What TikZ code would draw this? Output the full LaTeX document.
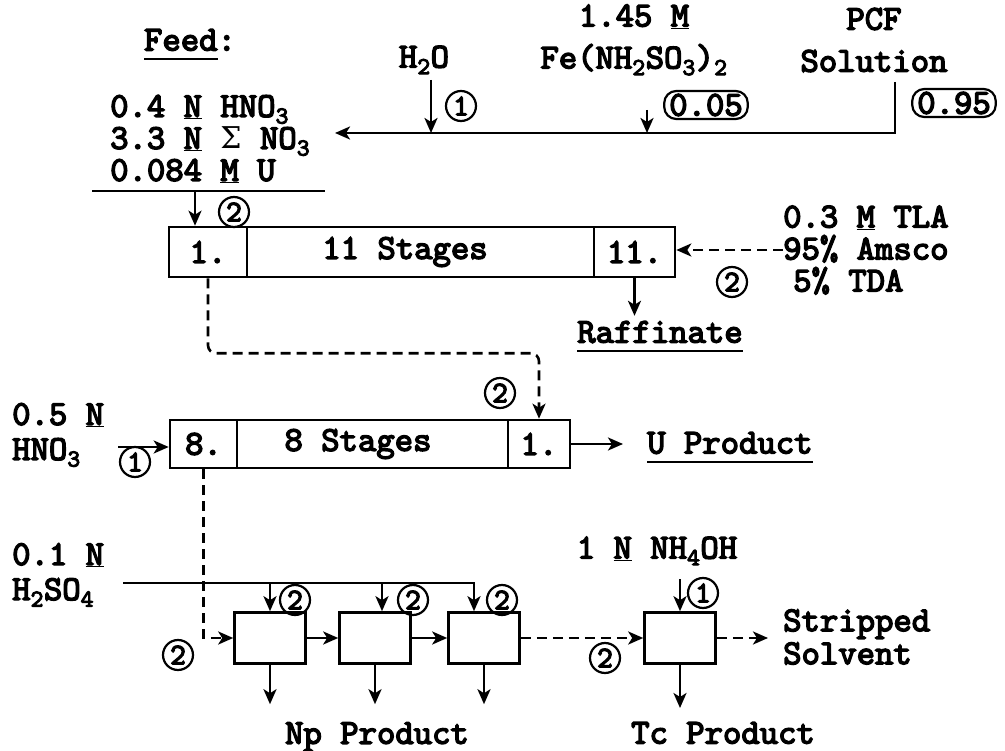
\documentclass[tikz,border=0pt]{standalone}
\usepackage{fontspec}
\usetikzlibrary{positioning,arrows.meta,calc}
\newfontfamily\twr{lmmono10-regular}[Extension=.otf,FakeBold=4]
\newfontfamily\grk{DejaVu Serif}
\newcommand\sbs[1]{\textsubscript{#1}}
\newcommand\typeul[1]{\leavevmode\setbox0=\hbox{#1}\rlap{\smash{\rule[-9pt]{\wd0}{1.8pt}}}\box0}
\tikzset{
  txt/.style={inner sep=0pt},
  lead/.style={align=left,inner sep=0pt,font=\fontsize{35}{#1}\selectfont\twr},
  unit/.style={draw,line width=2.6pt,inner sep=0pt,minimum height=50pt},
  num/.style={circle,draw,line width=2.2pt,inner sep=0pt,minimum size=30pt,
    font=\fontsize{30}{30}\selectfont\twr},
  ratio/.style={draw,rounded corners=12pt,line width=2.2pt,inner xsep=5pt,inner ysep=1pt,
    minimum height=28pt},
  ln/.style={line width=2.6pt},
  ar/.style={-{Stealth[length=15pt,width=13pt,inset=4pt]},line width=2.6pt},
  dar/.style={ar,dash pattern=on 10pt off 6pt},
}
\begin{document}
\begin{tikzpicture}[x=1pt,y=-1pt,font=\fontsize{35}{36}\selectfont\twr]
  \useasboundingbox (0,0) rectangle (1005,751);
  % feed make-up
  \node[txt] (feed) at (190,40) {\typeul{Feed}:};
  \node[txt] (water) at (424,60) {H\sbs{2}O};
  \node[lead=42,align=center] (ferro) at (634,40) {1.45 \underline{M}\\Fe(NH\sbs{2}SO\sbs{3})\sbs{2}};
  \node[lead=42,align=center] (pcf) at (874,40) {PCF\\Solution};
  \node[ratio] (r05) at (706,105) {0.05};
  \node[ratio] (r95) at (954,103) {0.95};
  \node[num] (n1a) at (461,106) {1};
  \coordinate (pcfout) at (895,82);
  \coordinate (mix) at (335,133);
  \coordinate (wat) at (431,80);
  \coordinate (fe) at (647,110);
  \draw[ar] (pcfout) |- (mix);
  \draw[ar] (wat) -- (wat |- mix);
  \draw[ar] (fe) -- (fe |- mix);
  \node[lead=32,anchor=west] (feedcomp) at (110,139)
    {0.4 \underline{N} HNO\sbs{3}\\3.3 \underline{N} {\grk\fontsize{30}{30}\selectfont Σ} NO\sbs{3}\\0.084 \underline{M} U};
  \coordinate (fl) at (92,191);
  \coordinate (fr) at (325,191);
  \coordinate (fdrop) at (195,191);
  \draw[ln] (fl) -- (fr);

  % extraction
  \node[unit,minimum width=506pt] (ext) at (422,252) {};
  \node[unit,minimum width=78pt,anchor=west] (ext1) at (ext.west) {1.};
  \node[unit,minimum width=81pt,anchor=east] (ext11) at (ext.east) {11.};
  \node[txt] (extlbl) at (405,252) {11 Stages};
  \draw[ar] (fdrop) -- (fdrop |- ext.north);
  \node[num] (n2a) at (234,212) {2};
  \node[lead=32,anchor=west] (tla) at (783,250)
    {0.3 \underline{M} TLA\\95\% Amsco\\\hspace*{10pt}5\% TDA};
  \draw[dar] (tla.west) -- (tla.west -| ext.east);
  \node[num] (n2b) at (732,282) {2};
  \node[txt] (raff) at (660,332) {\typeul{Raffinate}};
  \draw[ar,shorten >=5pt] (ext11.south) -- (ext11.south |- raff.north);

  % scrub
  \node[unit,minimum width=400pt,minimum height=48pt] (scr) at (370,444) {};
  \node[unit,minimum width=67pt,minimum height=48pt,anchor=west] (scr8) at (scr.west) {8.};
  \node[unit,minimum width=62pt,minimum height=48pt,anchor=east] (scr1) at (scr.east) {1.};
  \node[txt] (scrlbl) at (358,444) {8 Stages};
  \draw[dar,rounded corners=8pt] (ext1.south) -- ++(0,75) -| (scr1.north);
  \node[num] (n2c) at (500,393) {2};
  \node[lead=35,anchor=west] (acid1) at (12,435) {0.5 \underline{N}\\HNO\sbs{3}};
  \coordinate (acin) at (118,447);
  \draw[ar] (acin) -- (acin -| scr.west);
  \node[num] (n1b) at (135,462) {1};
  \node[txt,anchor=west] (uprod) at (647,443) {\typeul{U Product}};
  \draw[ar,shorten >=24pt] (scr.east) -- (scr.east -| uprod.west);

  % strip
  \foreach \n/\x in {sa/270,sb/375,sc/484,sd/680}
    \node[unit,minimum width=71pt,minimum height=51pt] (\n) at (\x,638) {};
  \draw[dar] (scr8.south) |- (sa.west);
  \node[num] (n2d) at (178,655) {2};
  \draw[ar] (sa) -- (sb);
  \draw[ar] (sb) -- (sc);
  \draw[dar] (sc) -- (sd);
  \node[num] (n2g) at (605,658) {2};
  \node[lead=35,anchor=west] (acid2) at (12,575) {0.1 \underline{N}\\H\sbs{2}SO\sbs{4}};
  \coordinate (sulf) at (123,583);
  \draw[ar] (sulf) -| ([xshift=-10pt]sc.north);
  \foreach \b/\dx in {sa/0,sb/7}
    \draw[ar] ([xshift=\dx pt]\b.north |- sulf) -- ([xshift=\dx pt]\b.north);
  \foreach \n/\x in {n2e/295,n2f/413,n2h/502}
    \node[num] (\n) at (\x,600) {2};
  \node[txt] (nh) at (657,551) {1 \underline{N} NH\sbs{4}OH};
  \draw[ar,shorten <=14pt] (nh.south -| sd.north) -- (sd.north);
  \node[num] (n1c) at (703,593) {1};
  \node[lead=33,anchor=west] (strip) at (783,637) {Stripped\\Solvent};
  \draw[dar,shorten >=15pt] (sd.east) -- (sd.east -| strip.west);
  \node[txt] (np) at (377,737) {Np Product};
  \node[txt] (tc) at (723,733) {Tc Product};
  \foreach \b in {sa,sb,sc}
    \draw[ar,shorten >=18pt] (\b.south) -- (\b.south |- np.north);
  \draw[ar,shorten >=14pt] (sd.south) -- (sd.south |- tc.north);
\end{tikzpicture}
\end{document}
